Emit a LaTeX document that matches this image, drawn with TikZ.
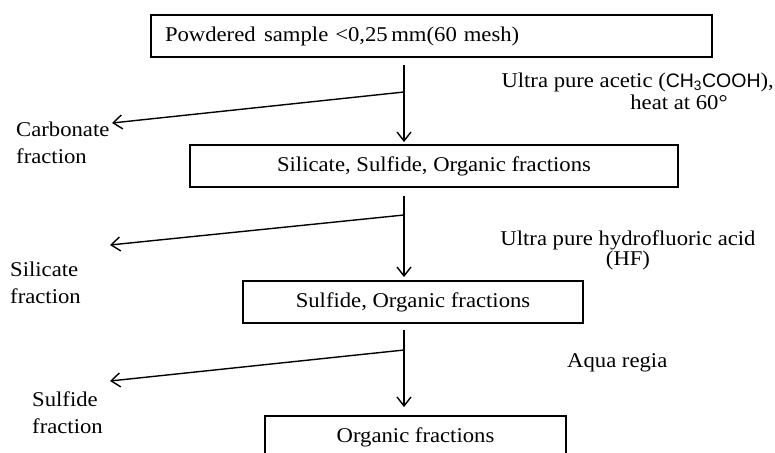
\documentclass[tikz,border=0pt]{standalone}
\usepackage{fontspec}
\setmainfont{Liberation Serif}[FakeStretch=1.08]
\newfontfamily\chemsans{Liberation Sans}
\usetikzlibrary{arrows.meta}
\tikzset{
  stagebox/.style={draw, line width=1.8pt, minimum height=42pt, inner sep=0pt, font=\fontsize{21}{24}\selectfont},
  fraclabel/.style={align=left, anchor=base west, inner sep=0pt, font=\fontsize{21}{27}\selectfont},
  reagent/.style={inner sep=0pt, font=\fontsize{21}{20}\selectfont},
  flow/.style={line width=1.4pt, -{Straight Barb[length=9pt,width=14pt]}}
}

\begin{document}
\begin{tikzpicture}[x=1pt,y=-1pt]
\path[fill=white] (0,0) rectangle (775,452);
\clip (0,0) rectangle (775,452);
% separation stages
\node[stagebox, minimum width=561pt, text width=533pt, align=left] (b1) at (431.5,36) {Powdered\hspace{0.4em}sample <0,25\,mm(60 mesh)};
\node[stagebox, minimum width=488pt] (b2) at (434,166) {Silicate, Sulfide, Organic fractions};
\node[stagebox, minimum width=340pt] (b3) at (413,302) {Sulfide, Organic fractions};
\node[stagebox, minimum width=301pt] (b4) at (415.5,437) {Organic fractions};
% split points and removed fractions
\coordinate (s1) at (404,92);
\coordinate (e1) at (112,123);
\coordinate (s2) at (404,215);
\coordinate (e2) at (110,245);
\coordinate (s3) at (404,350);
\coordinate (e3) at (110,381);
\draw[flow, shorten <=7pt, shorten >=2pt] (s1 |- b1.south) -- (s1 |- b2.north);
\draw[flow, shorten <=8pt, shorten >=3pt] (s2 |- b2.south) -- (s2 |- b3.north);
\draw[flow, shorten <=6pt, shorten >=8pt] (s3 |- b3.south) -- (s3 |- b4.north);
\draw[flow] (s1) -- (e1);
\draw[flow] (s2) -- (e2);
\draw[flow] (s3) -- (e3);
\node[fraclabel] (carb) at (16,163) {Carbonate\\fraction};
\node[fraclabel] (sil) at (10,303) {Silicate\\fraction};
\node[fraclabel] (sulf) at (32,433) {Sulfide\\fraction};
% reagents
\node[reagent, anchor=base east] (acetic) at (774,87) {Ultra pure acetic ({\chemsans\fontsize{19.5}{20}\selectfont CH\textsubscript{3}COOH}),};
\node[reagent, anchor=base] (heat) at (679,109) {heat at 60°};
\node[reagent, align=center, anchor=base] (hf) at (628,265) {Ultra pure hydrofluoric acid\\(HF)};
\node[reagent, anchor=base west] (aqua) at (567,367) {Aqua regia};
\end{tikzpicture}
\end{document}
